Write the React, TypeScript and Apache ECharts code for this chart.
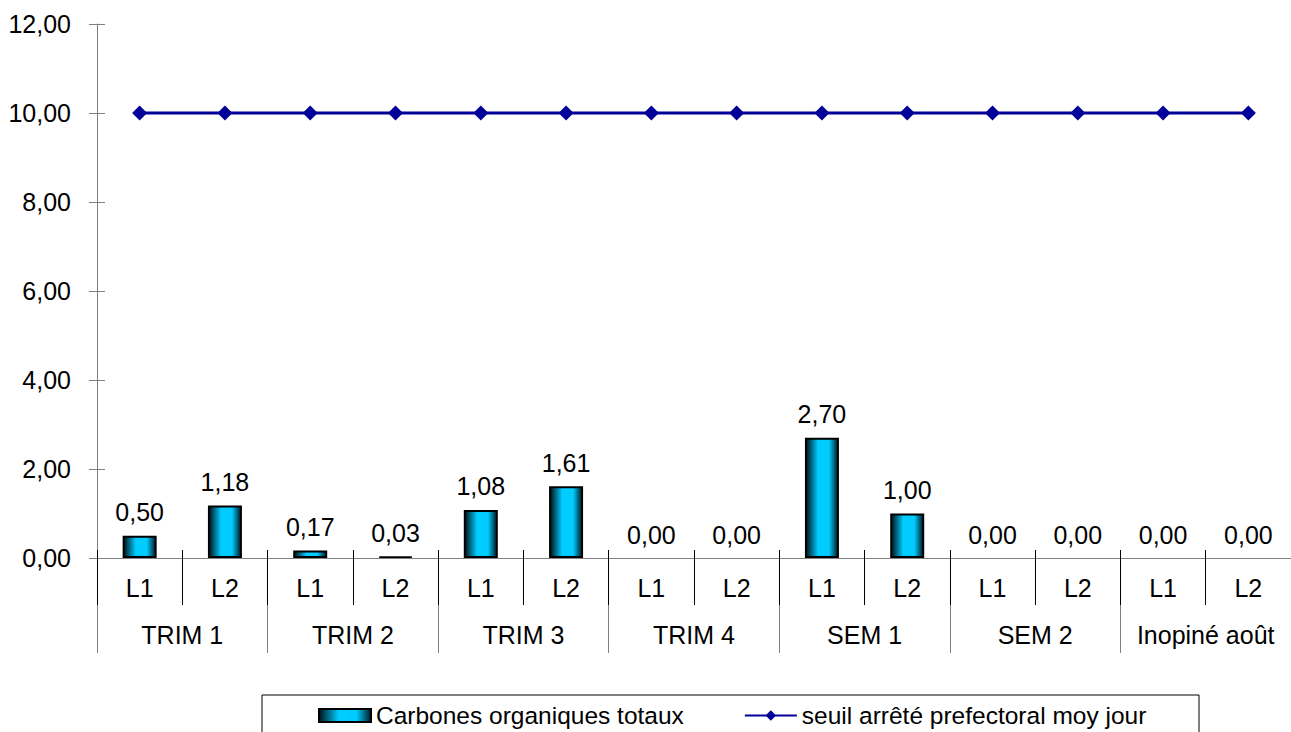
import React, { useEffect, useRef } from "react";
import * as echarts from "echarts";

const subCategories = ["L1", "L2", "L1", "L2", "L1", "L2", "L1", "L2", "L1", "L2", "L1", "L2", "L1", "L2"];
const groupCategories = ["TRIM 1", "TRIM 2", "TRIM 3", "TRIM 4", "SEM 1", "SEM 2", "Inopiné août"];
const carbonValues = [0.5, 1.18, 0.17, 0.03, 1.08, 1.61, 0.0, 0.0, 2.7, 1.0, 0.0, 0.0, 0.0, 0.0];
const thresholdValues = [10, 10, 10, 10, 10, 10, 10, 10, 10, 10, 10, 10, 10, 10];
const barName = "Carbones organiques totaux";
const lineName = "seuil arrêté prefectoral moy jour";

const FONT = '"Liberation Sans", Arial, sans-serif';
const fmt = (v: number) => v.toFixed(2).replace(".", ",");

export default function App() {
  const ref = useRef<HTMLDivElement>(null);
  useEffect(() => {
    if (!ref.current) return;
    const chart = echarts.init(ref.current, null, { renderer: "svg" });
    const barGradient = new echarts.graphic.LinearGradient(0, 0, 1, 0, [
      { offset: 0, color: "#001018" },
      { offset: 0.38, color: "#00ccff" },
      { offset: 0.72, color: "#00ccff" },
      { offset: 1, color: "#001822" },
    ]);
    const option = {
      animation: false,
      textStyle: { fontFamily: FONT, color: "#000" },
      grid: { left: 97, right: 0, top: 24, bottom: 174, containLabel: false },
      legend: {
        left: 318,
        top: 703,
        padding: 0,
        itemGap: 60,
        itemWidth: 52,
        itemHeight: 13,
        textStyle: { fontFamily: FONT, fontSize: 24.5, color: "#000" },
        data: [{ name: barName, icon: "rect" }, { name: lineName }],
      },
      graphic: [
        {
          type: "rect",
          shape: { x: 262, y: 695, width: 937, height: 60 },
          style: { fill: "none", stroke: "#000", lineWidth: 1 },
        },
      ],
      xAxis: [
        {
          type: "category",
          data: subCategories,
          position: "bottom",
          z: 4,
          axisLine: { show: true, lineStyle: { color: "#808080", width: 1 } },
          axisTick: { show: true, interval: 0, length: 47, lineStyle: { color: "#000", width: 1 } },
          axisLabel: { interval: 0, margin: 17, fontSize: 25, color: "#000", fontFamily: FONT },
          splitLine: { show: false },
        },
        {
          type: "category",
          data: groupCategories,
          position: "bottom",
          z: 2,
          axisLine: { show: false },
          axisTick: { show: true, interval: 0, length: 95, lineStyle: { color: "#808080", width: 1 } },
          axisLabel: { interval: 0, margin: 64, fontSize: 25, color: "#000", fontFamily: FONT },
          splitLine: { show: false },
        },
        {
          type: "category",
          data: subCategories,
          position: "bottom",
          z: 4,
          axisLine: { show: false },
          axisTick: { show: true, inside: true, interval: 0, length: 8, lineStyle: { color: "#000", width: 1 } },
          axisLabel: { show: false },
          splitLine: { show: false },
        },
      ],
      yAxis: [
        {
          type: "value",
          min: 0,
          max: 12,
          interval: 2,
          position: "left",
          axisLine: { show: true, lineStyle: { color: "#808080", width: 1 } },
          axisTick: { show: true, length: 8, lineStyle: { color: "#808080", width: 1 } },
          axisLabel: { margin: 26, fontSize: 25, color: "#000", fontFamily: FONT, formatter: (v: number) => fmt(v) },
          splitLine: { show: false },
        },
        {
          type: "value",
          min: 0,
          max: 12,
          interval: 2,
          position: "left",
          axisLine: { show: false },
          axisTick: { show: true, inside: true, length: 8, lineStyle: { color: "#808080", width: 1 } },
          axisLabel: { show: false },
          splitLine: { show: false },
        },
      ],
      series: [
        {
          name: barName,
          type: "bar",
          xAxisIndex: 0,
          yAxisIndex: 0,
          barWidth: 34,
          itemStyle: { color: barGradient, borderColor: "#000", borderWidth: 2 },
          label: {
            show: true,
            position: "top",
            distance: 11,
            fontSize: 25,
            color: "#000",
            fontFamily: FONT,
            formatter: (p: any) => fmt(Number(p.value)),
          },
          data: carbonValues.map((v) =>
            v === 0 ? { value: v, itemStyle: { borderWidth: 0 } } : v
          ),
        },
        {
          name: lineName,
          type: "line",
          xAxisIndex: 0,
          yAxisIndex: 0,
          symbol: "diamond",
          symbolSize: 15,
          itemStyle: { color: "#000099" },
          lineStyle: { color: "#000099", width: 3 },
          data: thresholdValues,
        },
      ],
    };
    chart.setOption(option as any);
    return () => chart.dispose();
  }, []);
  return (
    <div
      ref={ref}
      style={{ position: "fixed", left: 0, top: 0, width: 1291, height: 732, background: "#fff" }}
    />
  );
}
